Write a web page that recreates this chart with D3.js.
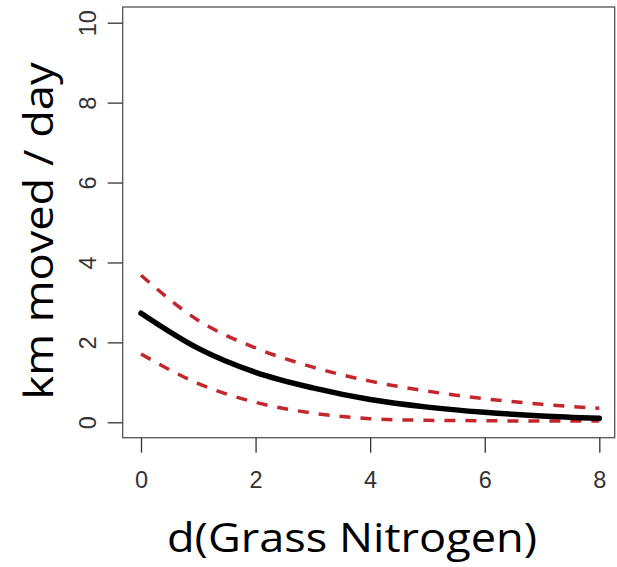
<!DOCTYPE html>
<html>
<head>
<meta charset="utf-8">
<script src="https://cdn.jsdelivr.net/npm/d3@7"></script>
<style>
  body { margin: 0; background: #fff; }
  svg { display: block; }
</style>
</head>
<body>
<svg id="chart" width="617" height="567"></svg>
<script>
// valori
const nitrogen = [0, 1, 2, 3, 4, 5, 6, 7, 8];
const kmMean  = [2.73, 1.85, 1.25, 0.86, 0.57, 0.38, 0.25, 0.16, 0.10];
const kmUpper = [3.68, 2.55, 1.86, 1.38, 1.03, 0.78, 0.59, 0.45, 0.35];
const kmLower = [1.71, 0.97, 0.50, 0.23, 0.09, 0.05, 0.04, 0.03, 0.03];
const xTicks = [0, 2, 4, 6, 8];
const yTicks = [0, 2, 4, 6, 8, 10];

const svg = d3.select('#chart');

// scale
const x = d3.scaleLinear().domain([0, 8]).range([141, 599.3]);
const y = d3.scaleLinear().domain([0, 10]).range([422.3, 22.7]);

// riquadro del grafico
svg.append('rect')
  .attr('x', 122.7).attr('y', 7)
  .attr('width', 492).attr('height', 430.7)
  .attr('fill', 'none')
  .attr('stroke', '#555')
  .attr('stroke-width', 1.3);

// asse x
const xAxis = svg.append('g')
  .attr('transform', 'translate(0,437.7)')
  .call(d3.axisBottom(x).tickValues(xTicks).tickSize(15).tickPadding(19));
xAxis.select('.domain').remove();
xAxis.selectAll('line').attr('stroke', '#333').attr('stroke-width', 1.3);
xAxis.selectAll('text')
  .attr('font-family', 'Liberation Sans, Arial, sans-serif')
  .attr('font-size', 23.5)
  .attr('fill', '#333');

// asse y (etichette ruotate come in R)
const yAxis = svg.append('g')
  .attr('transform', 'translate(122.7,0)')
  .call(d3.axisLeft(y).tickValues(yTicks).tickSize(15).tickFormat(d => d));
yAxis.select('.domain').remove();
yAxis.selectAll('line').attr('stroke', '#333').attr('stroke-width', 1.3);
yAxis.selectAll('text')
  .attr('font-family', 'Liberation Sans, Arial, sans-serif')
  .attr('font-size', 23.5)
  .attr('fill', '#333')
  .attr('x', null)
  .attr('text-anchor', 'middle')
  .attr('transform', 'translate(-35,0) rotate(-90)')
  .attr('y', 0)
  .attr('dy', '0.35em');

// linee
const line = (vals) => d3.line()
  .x((d, i) => x(nitrogen[i]))
  .y(d => y(d))
  .curve(d3.curveMonotoneX)(vals);

svg.append('path')
  .attr('d', line(kmUpper))
  .attr('fill', 'none')
  .attr('stroke', '#c3262b')
  .attr('stroke-width', 3.5)
  .attr('stroke-dasharray', '11,10');

svg.append('path')
  .attr('d', line(kmLower))
  .attr('fill', 'none')
  .attr('stroke', '#c3262b')
  .attr('stroke-width', 3.5)
  .attr('stroke-dasharray', '11,10');

svg.append('path')
  .attr('d', line(kmMean))
  .attr('fill', 'none')
  .attr('stroke', '#000')
  .attr('stroke-width', 5.5)
  .attr('stroke-linecap', 'round');

// titoli degli assi
svg.append('text')
  .attr('x', 352).attr('y', 552)
  .attr('text-anchor', 'middle')
  .attr('font-family', 'Open Sans, Carlito, sans-serif')
  .attr('font-size', 40)
  .attr('textLength', 370)
  .attr('lengthAdjust', 'spacingAndGlyphs')
  .attr('fill', '#000')
  .text('d(Grass Nitrogen)');

svg.append('text')
  .attr('transform', 'translate(53,231) rotate(-90)')
  .attr('text-anchor', 'middle')
  .attr('font-family', 'Open Sans, Carlito, sans-serif')
  .attr('font-size', 40)
  .attr('textLength', 337)
  .attr('lengthAdjust', 'spacingAndGlyphs')
  .attr('fill', '#000')
  .text('km moved / day');
</script>
</body>
</html>
